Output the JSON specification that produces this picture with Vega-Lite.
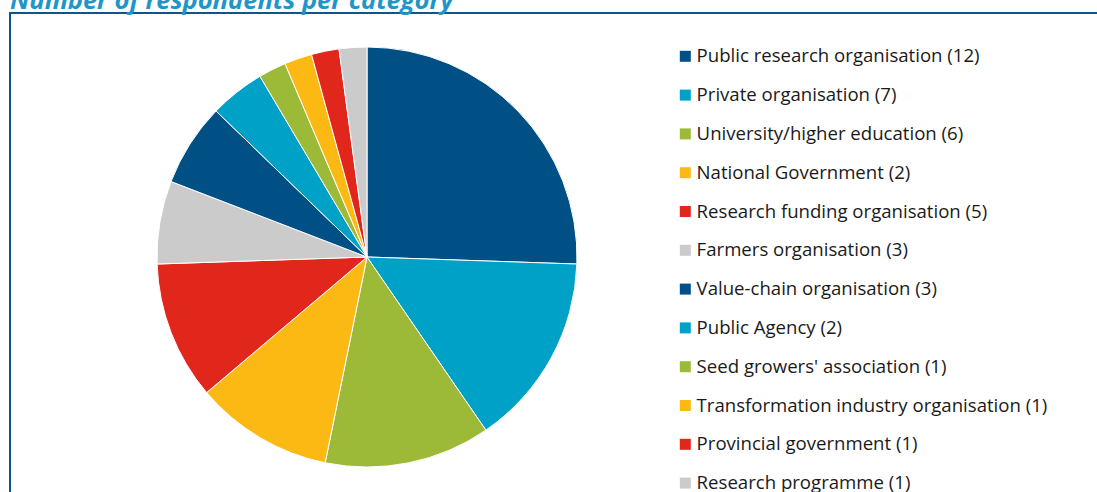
{
  "$schema": "https://vega.github.io/schema/vega-lite/v6.json",
  "width": 1428,
  "height": 488,
  "autosize": {"type": "none"},
  "padding": {"left": 10, "top": 13, "right": -341, "bottom": -9},
  "background": "white",
  "title": {
    "text": "Number of respondents per category",
    "anchor": "start",
    "frame": "group",
    "font": "Open Sans",
    "fontSize": 25.5,
    "fontStyle": "italic",
    "fontWeight": "bold",
    "color": "#1E96C9",
    "offset": -1
  },
  "data": {
    "values": [
      {"order": 1, "category": "Public research organisation (12)", "value": 12},
      {"order": 2, "category": "Private organisation (7)", "value": 7},
      {"order": 3, "category": "University/higher education (6)", "value": 6},
      {"order": 4, "category": "National Government (2)", "value": 5},
      {"order": 5, "category": "Research funding organisation (5)", "value": 5},
      {"order": 6, "category": "Farmers organisation (3)", "value": 3},
      {"order": 7, "category": "Value-chain organisation (3)", "value": 3},
      {"order": 8, "category": "Public Agency (2)", "value": 2},
      {"order": 9, "category": "Seed growers' association (1)", "value": 1},
      {"order": 10, "category": "Transformation industry organisation (1)", "value": 1},
      {"order": 11, "category": "Provincial government (1)", "value": 1},
      {"order": 12, "category": "Research programme (1)", "value": 1}
    ]
  },
  "mark": {"type": "arc", "outerRadius": 210, "stroke": "white", "strokeWidth": 1},
  "encoding": {
    "theta": {"field": "value", "type": "quantitative", "stack": true},
    "order": {"field": "order", "type": "quantitative"},
    "x": {"datum": "pie", "type": "nominal", "scale": {"domain": ["pie", "rest"], "padding": 0.5}, "axis": null},
    "color": {
      "field": "category",
      "type": "nominal",
      "sort": null,
      "scale": {
        "domain": [
          "Public research organisation (12)",
          "Private organisation (7)",
          "University/higher education (6)",
          "National Government (2)",
          "Research funding organisation (5)",
          "Farmers organisation (3)",
          "Value-chain organisation (3)",
          "Public Agency (2)",
          "Seed growers' association (1)",
          "Transformation industry organisation (1)",
          "Provincial government (1)",
          "Research programme (1)"
        ],
        "range": ["#004F85", "#00A1C6", "#9CBA38", "#FDB913", "#E1261C", "#CBCBCB", "#004F85", "#00A1C6", "#9CBA38", "#FDB913", "#E1261C", "#CBCBCB"]
      },
      "legend": {
        "orient": "none",
        "legendX": 666,
        "legendY": 34,
        "title": null,
        "symbolType": "square",
        "symbolSize": 121,
        "symbolStrokeWidth": 0,
        "labelFont": "Open Sans",
        "labelFontSize": 18.6,
        "labelColor": "#1a1a1a",
        "rowPadding": 19.8,
        "labelOffset": 2,
        "padding": 0,
        "labelLimit": 0
      }
    }
  },
  "config": {"view": {"stroke": "#0B5591", "strokeWidth": 2}}
}
